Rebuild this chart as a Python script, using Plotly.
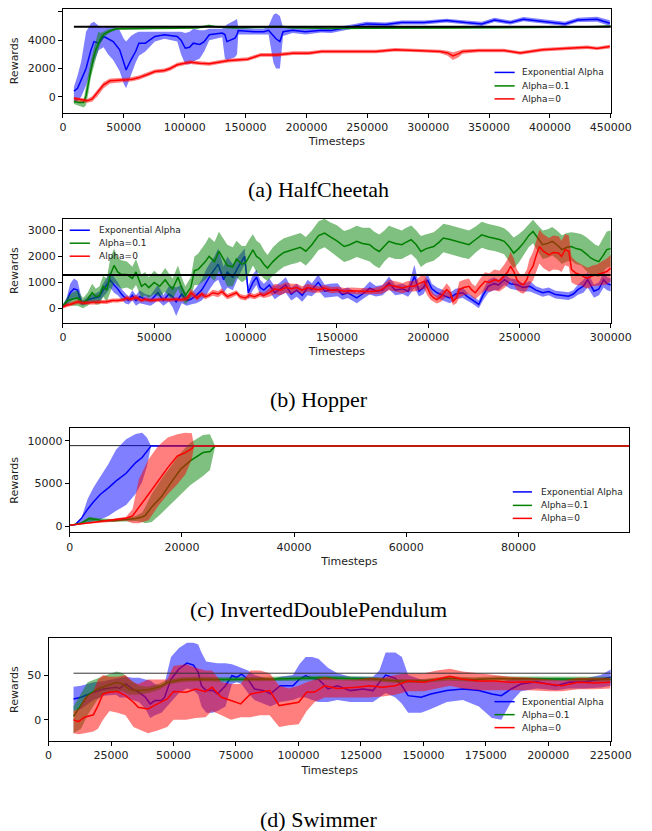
import plotly.graph_objects as go

# page is 652x831; the html body adds an 8px margin, so the figure is sized to fit inside it
PAGE_W, PAGE_H = 652, 831
OFF = 8
W, H = PAGE_W - OFF, PAGE_H - OFF

# ---------------- (a) HalfCheetah ----------------
a_blue_x = [9000, 12000, 15000, 19000, 23000, 25500, 29500, 33400, 37000, 41300, 46600, 50000, 51900, 55800, 59700,
            62400, 67700, 75500, 83400, 93900, 97000, 100500, 104000, 107100, 112400, 116000, 120200, 130800, 133000,
            134700, 141300, 143000, 144000, 157100, 165000, 168900, 172900, 175000, 178200, 180800, 188700, 199200,
            212300, 220300, 230800, 240000, 249300, 265000, 278200, 296600, 315000, 330800, 344000, 354500, 367600,
            378200, 393900, 412400, 422900, 438700, 449200]
a_blue_y = [400, 600, 1200, 2000, 3300, 3900, 3790, 4260, 4100, 3900, 3320, 2500, 1900, 2600, 3200, 3790, 3790, 4260,
            4380, 4260, 4000, 3430, 3500, 3790, 3700, 3900, 4380, 4500, 4400, 3900, 4140, 4400, 4680, 4600, 4600, 4700,
            4260, 4100, 3900, 4600, 4700, 4600, 4700, 4680, 4850, 5000, 5150, 5100, 5240, 5240, 5390, 5240, 5150, 5430,
            5240, 5480, 5320, 5150, 5430, 5480, 5190]
a_blue_lo = [-400, -300, 0, 800, 1800, 2500, 3300, 3500, 3000, 2600, 1800, 900, 600, 1500, 2400, 2900, 3200, 3900,
             4100, 3900, 3000, 2300, 2300, 2500, 2700, 3200, 4000, 4200, 2700, 2600, 2800, 3000, 4400, 4400, 4400, 4400,
             2400, 2000, 2000, 4300, 4500, 4400, 4550, 4500, 4700, 4850, 5000, 4950, 5100, 5100, 5250, 5100, 5000, 5280,
             5100, 5330, 5180, 5000, 5280, 5300, 5000]
a_blue_hi = [700, 1500, 2500, 4600, 5200, 5300, 5000, 4900, 4950, 5000, 4700, 4100, 3900, 4300, 4500, 4600, 4600, 4600,
             4650, 4650, 4600, 4500, 4600, 4800, 4700, 4700, 4800, 4800, 5000, 5100, 5400, 5500, 4900, 4800, 4800, 5000,
             5800, 5900, 5700, 4900, 4900, 4800, 4850, 4850, 5000, 5150, 5300, 5250, 5380, 5380, 5520, 5380, 5300, 5580,
             5380, 5630, 5460, 5300, 5580, 5650, 5400]

a_green_x = [9000, 13000, 17000, 19000, 21000, 23000, 25000, 27000, 29000, 31000, 34000, 37000, 40000, 44000, 50000,
             60000, 75000, 90000, 110000, 120000, 125000, 140000, 160000, 180000, 185000, 200000, 220000, 250000,
             280000, 310000, 340000, 370000, 400000, 430000, 450000]
a_green_y = [-330, -400, -400, 100, 1000, 2000, 2700, 3300, 3800, 4150, 4450, 4600, 4700, 4800, 4820, 4830, 4850, 4850,
             4880, 5000, 4950, 4870, 4900, 4950, 4900, 4850, 4830, 4840, 4850, 4860, 4870, 4880, 4900, 4930, 4980]
a_green_lo = [-500, -600, -750, -600, 300, 1400, 2100, 2700, 3300, 3800, 4200, 4450, 4600, 4720, 4750, 4760, 4780, 4780,
              4800, 4900, 4880, 4800, 4820, 4870, 4820, 4780, 4760, 4770, 4780, 4790, 4800, 4810, 4830, 4860, 4900]
a_green_hi = [-200, -250, -200, 800, 1700, 2600, 3300, 3900, 4600, 4500, 4650, 4750, 4800, 4880, 4890, 4900, 4920, 4920,
              4950, 5100, 5020, 4940, 4970, 5030, 4980, 4920, 4900, 4910, 4920, 4930, 4940, 4950, 4970, 5000, 5060]

a_red_x = [9000, 14000, 20000, 24000, 28100, 33400, 38700, 45000, 51900, 57000, 62400, 70000, 75500, 83400, 88000,
           93900, 104500, 112000, 120200, 128000, 136000, 151800, 162400, 175500, 188700, 201900, 212300, 230800,
           257100, 272900, 294000, 309700, 316000, 320300, 325000, 328200, 341300, 362400, 375500, 393900, 415000,
           430800, 438700, 449200]
a_red_y = [-100, -200, -280, -150, 260, 850, 1130, 1150, 1200, 1250, 1360, 1600, 1790, 1860, 2000, 2260, 2450, 2380,
           2330, 2450, 2560, 2660, 2960, 2960, 3080, 3080, 3200, 3200, 3200, 3320, 3260, 3200, 3100, 2890, 3050, 3200,
           3270, 3270, 3100, 3320, 3430, 3500, 3420, 3550]
a_red_lo = [-250, -350, -420, -350, 0, 600, 950, 1000, 1050, 1100, 1200, 1450, 1650, 1720, 1850, 2120, 2320, 2250, 2200,
            2320, 2430, 2530, 2830, 2830, 2950, 2950, 3070, 3070, 3080, 3200, 3140, 3080, 2900, 2600, 2800, 3050, 3150,
            3150, 2980, 3200, 3310, 3380, 3300, 3420]
a_red_hi = [0, -50, -150, 50, 500, 1050, 1300, 1300, 1350, 1400, 1500, 1750, 1930, 2000, 2150, 2400, 2580, 2510, 2460,
            2580, 2690, 2790, 3090, 3090, 3210, 3210, 3330, 3330, 3320, 3440, 3380, 3320, 3250, 3150, 3250, 3350, 3390,
            3390, 3220, 3440, 3550, 3620, 3540, 3680]
a_base_x = [9000, 450000]
a_base_y = [4950, 4950]

# ---------------- (b) Hopper ----------------
b_blue_x = [0, 2000, 4000, 6000, 8000, 9000, 10500, 12000, 14400, 17000,
            20000, 22000, 24000, 25800, 28000, 30000, 32000, 34000, 36000, 38000,
            40000, 42000, 45000, 48000, 50000, 52000, 55000, 58000, 60000, 62000,
            65000, 67900, 70000, 73000, 76000, 78400, 81000, 83000, 85000, 88000,
            90000, 93000, 96000, 99500, 101500, 104000, 106000, 108000, 110000, 113000,
            116000, 119000, 122000, 125000, 128000, 131000, 134000, 136300, 139800, 143300,
            146000, 150400, 153000, 156000, 160900, 165000, 168000, 171400, 175000, 178500,
            182000, 186000, 189000, 192500, 195000, 197500, 199600, 202000, 204900, 208000,
            211900, 215000, 218900, 221500, 224100, 227700, 230000, 232900, 236000, 238500,
            241700, 245000, 248700, 252000, 255700, 259000, 262700, 266000, 269700, 273000,
            276800, 279500, 282000, 285000, 287300, 290800, 293500, 296100, 298000, 300000]
b_blue_y = [100, 250, 600, 750, 700, 450, 200, 250, 350, 400,
            450, 700, 900, 1100, 900, 750, 550, 400, 300, 500,
            300, 450, 350, 300, 450, 600, 300, 550, 450, 250,
            550, 300, 350, 500, 700, 1000, 1300, 1500, 1700, 1100,
            1400, 1200, 1600, 2000, 600, 1000, 1200, 800, 700, 900,
            600, 750, 900, 550, 700, 500, 800, 720, 1000, 660,
            700, 720, 530, 600, 400, 600, 780, 660, 700, 980,
            700, 750, 650, 1230, 660, 800, 1100, 750, 600, 500,
            400, 550, 600, 450, 335, 150, 500, 850, 950, 900,
            1100, 950, 910, 800, 850, 700, 600, 650, 530, 500,
            470, 550, 720, 850, 1100, 660, 750, 1100, 950, 900]
b_blue_sd = [50, 150, 350, 400, 350, 250, 100, 100, 150, 150,
             200, 250, 300, 300, 300, 250, 200, 200, 150, 200,
             200, 250, 200, 200, 250, 300, 200, 300, 400, 550,
             350, 200, 200, 300, 400, 500, 500, 500, 600, 500,
             600, 500, 400, 300, 250, 300, 300, 300, 250, 250,
             250, 250, 300, 250, 250, 250, 300, 250, 300, 250,
             250, 250, 200, 200, 200, 200, 250, 200, 200, 250,
             200, 200, 200, 450, 200, 250, 250, 200, 200, 200,
             200, 200, 200, 150, 150, 150, 200, 250, 250, 200,
             200, 200, 200, 150, 200, 150, 150, 150, 150, 150,
             150, 150, 200, 250, 300, 250, 250, 300, 250, 250]

b_green_x = [0, 2500, 5000, 8000, 11000, 13500, 16000, 18000, 20000, 22000,
             24000, 26000, 28000, 30000, 32000, 35000, 38000, 40000, 43000, 45000,
             47000, 50000, 53000, 56000, 58000, 60000, 63000, 65000, 67000, 70000,
             72000, 74000, 76000, 78000, 80000, 83000, 85400, 88000, 90000, 93000,
             95000, 98000, 100000, 102000, 104000, 106000, 108000, 110000, 112000, 115000,
             118000, 121000, 125000, 128000, 130000, 133000, 136300, 140000, 143300, 146000,
             150000, 154000, 157000, 160900, 164000, 168000, 170500, 173200, 176000, 178500,
             182000, 185500, 188000, 190700, 193500, 196000, 199000, 203000, 206000, 208300,
             212000, 215300, 219000, 222300, 226000, 229300, 233000, 236300, 239000, 241600,
             244000, 246800, 249500, 252100, 255000, 257400, 260000, 262700, 265500, 267900,
             270500, 273200, 276000, 278500, 281000, 283700, 286500, 289000, 291500, 293400,
             295500, 297800, 300000]
b_green_y = [100, 300, 350, 400, 200, 350, 600, 450, 500, 850,
             700, 1300, 1650, 1400, 1300, 1300, 1150, 1400, 850, 950,
             800, 1000, 850, 1100, 900, 750, 1200, 800, 500, 800,
             1450, 1500, 1650, 1800, 2000, 1800, 2200, 1900, 1650, 1600,
             1900, 1700, 1750, 2000, 2250, 2000, 1900, 1700, 1550, 1800,
             2000, 2150, 2250, 2300, 2350, 2200, 2450, 2800, 2900, 2770,
             2600, 2380, 2450, 2580, 2500, 2450, 2300, 2190, 2400, 2580,
             2500, 2450, 2550, 2640, 2450, 2190, 2300, 2380, 2550, 2710,
             2650, 2580, 2500, 2450, 2650, 2830, 2750, 2710, 2650, 2580,
             2400, 2130, 2300, 2510, 2800, 2960, 2700, 2450, 2500, 2580,
             2450, 2260, 2350, 2380, 2300, 2260, 2100, 1940, 1850, 1800,
             2000, 2260, 2300]
b_green_sd = [50, 150, 250, 300, 200, 250, 350, 300, 350, 400,
              450, 650, 650, 550, 550, 500, 450, 500, 450, 450,
              400, 450, 400, 450, 450, 400, 450, 400, 350, 400,
              550, 600, 650, 700, 750, 750, 750, 750, 800, 750,
              700, 700, 650, 650, 600, 600, 600, 550, 500, 550,
              550, 550, 550, 550, 550, 550, 550, 550, 550, 550,
              600, 600, 600, 600, 600, 650, 650, 650, 600, 600,
              600, 550, 550, 550, 550, 600, 550, 550, 550, 550,
              550, 550, 550, 550, 500, 500, 500, 500, 500, 500,
              550, 600, 550, 500, 450, 450, 500, 550, 550, 550,
              550, 550, 550, 550, 600, 600, 650, 650, 600, 600,
              650, 700, 700]

b_red_x = [0, 2000, 4000, 6000, 8000, 10000, 12000, 15000, 18000, 21000,
           24000, 27000, 30000, 33000, 35000, 37000, 40000, 43000, 45000, 48000,
           51000, 55000, 58000, 62000, 65000, 68000, 70000, 72000, 73500, 76000,
           78000, 80000, 82000, 85000, 87000, 90000, 92000, 95000, 97000, 100000,
           102000, 105000, 108000, 110000, 113000, 116000, 119000, 122000, 125000, 128000,
           131000, 134000, 137000, 140000, 143000, 147000, 150000, 154000, 158000, 162000,
           166000, 170000, 174000, 178500, 182000, 186000, 189000, 192500, 195000, 197800,
           199500, 201300, 203000, 204800, 207000, 210100, 212000, 213600, 215500, 217000,
           219500, 222300, 224000, 225800, 228000, 231100, 233500, 236300, 239000, 241600,
           243500, 245100, 247000, 248600, 250500, 252100, 254000, 255500, 257400, 259000,
           260900, 263000, 266200, 268500, 271400, 273000, 275000, 277000, 278500, 281000,
           283700, 285500, 287300, 290000, 292500, 295000, 297800, 300000]
b_red_y = [50, 120, 150, 200, 250, 220, 200, 220, 230, 260,
           250, 300, 300, 330, 400, 350, 420, 300, 350, 300,
           320, 350, 330, 350, 330, 380, 600, 500, 400, 550,
           450, 500, 600, 550, 650, 450, 500, 600, 450, 400,
           500, 450, 550, 500, 600, 750, 700, 800, 750, 800,
           700, 800, 750, 720, 780, 700, 720, 660, 680, 660,
           650, 660, 700, 900, 850, 780, 850, 850, 950, 1040,
           800, 530, 400, 335, 450, 720, 600, 270, 400, 720,
           800, 850, 700, 600, 800, 1040, 1000, 1100, 1050, 1230,
           1400, 1620, 1400, 1100, 950, 910, 1100, 1400, 1620, 2000,
           2380, 2200, 2060, 2150, 2130, 2000, 2260, 2200, 1490, 1350,
           1290, 1200, 1160, 1250, 1290, 1350, 1420, 1550]
b_red_sd = [50, 80, 80, 80, 80, 80, 80, 80, 80, 80,
            80, 80, 80, 80, 100, 80, 100, 80, 80, 80,
            80, 80, 80, 80, 80, 100, 150, 120, 100, 100,
            100, 100, 120, 120, 120, 100, 100, 100, 100, 100,
            100, 100, 100, 100, 150, 200, 200, 200, 200, 150,
            150, 150, 150, 120, 120, 120, 120, 120, 120, 120,
            120, 120, 150, 200, 200, 200, 200, 200, 250, 300,
            300, 200, 150, 150, 200, 250, 200, 150, 200, 300,
            300, 300, 250, 250, 300, 350, 350, 400, 400, 450,
            500, 550, 500, 400, 350, 350, 400, 500, 550, 600,
            650, 650, 650, 650, 650, 600, 600, 600, 500, 450,
            400, 400, 400, 400, 400, 450, 500, 500]
b_base_x = [0, 300000]
b_base_y = [1280, 1280]

# ---------------- (c) InvertedDoublePendulum ----------------
c_blue_x = [0, 1000, 2060, 3200, 4300, 5490, 6900, 8290, 10060, 11770, 12910, 13770, 14510, 99700]
c_blue_y = [100, 200, 900, 2000, 2900, 3750, 4500, 5310, 6210, 7460, 8050, 8830, 9420, 9420]
c_blue_lo = [100, 100, 300, 450, 600, 800, 1200, 1800, 2500, 3800, 5200, 7000, 9420, 9420]
c_blue_hi = [100, 300, 900, 3200, 4600, 5900, 7300, 9000, 10200, 10800, 10950, 10400, 9420, 9420]

c_green_x = [0, 1000, 2060, 3490, 5490, 7770, 10060, 11770, 12910, 13480, 14630, 16340, 18050, 19770, 21480, 23770,
             25000, 25940, 99700]
c_green_y = [100, 200, 350, 900, 700, 650, 780, 900, 1090, 1280, 2250, 3440, 5120, 6680, 7660, 8640, 8750, 9420, 9420]
c_green_lo = [100, 100, 200, 500, 500, 500, 550, 600, 500, 350, 500, 1500, 2500, 3700, 4800, 5900, 6600, 9420, 9420]
c_green_hi = [100, 300, 500, 1100, 900, 850, 1000, 1200, 1600, 2250, 3800, 5500, 7030, 8600, 9800, 10700, 10780,
              9420, 9420]

c_red_x = [0, 2000, 4000, 5830, 8000, 10060, 11200, 12340, 14060, 15770, 17490, 19200, 20630, 21770, 22170, 99700]
c_red_y = [100, 250, 400, 600, 750, 940, 1210, 2190, 3750, 5310, 6870, 8240, 8630, 9100, 9420, 9420]
c_red_lo = [100, 200, 300, 450, 550, 650, 350, 350, 700, 2360, 3750, 4920, 6100, 7850, 9420, 9420]
c_red_hi = [100, 300, 500, 700, 900, 1100, 1990, 5510, 7850, 9420, 10390, 10790, 10950, 10900, 9420, 9420]
c_base_x = [0, 99700]
c_base_y = [9450, 9450]

# ---------------- (d) Swimmer ----------------
d_blue_x = [10000, 13000, 18000, 22000, 27000, 28500, 31000, 33600, 36200, 38800,
            40700, 42600, 45200, 46400, 49000, 52200, 55400, 58000, 59900, 61200,
            63100, 65700, 67600, 70800, 73400, 75300, 77200, 79800, 82400, 86200,
            88800, 92700, 97800, 100400, 102900, 105500, 108000, 111800, 115600, 120800,
            125900, 129800, 132400, 134900, 138800, 141400, 143900, 149100, 153000, 159400,
            165800, 172200, 177400, 181200, 185100, 189000, 195400, 203100, 208200, 214600,
            221000, 225000]
d_blue_y = [23.3, 25.2, 30.7, 34.4, 36.3, 35, 40, 34.4, 30.7, 25.2,
            17.8, 21.5, 21.5, 25, 45.3, 56.7, 63.3, 61, 52.9, 38,
            32.6, 33, 28.9, 38, 49.2, 47.4, 51, 45.3, 34.4, 32.6,
            28.9, 38, 38, 45.3, 49.2, 46.3, 45.3, 34.4, 38, 32.6,
            34.4, 32.6, 41.8, 50, 46.3, 38, 27, 25.2, 28.9, 32.6,
            34.4, 32.6, 28.9, 27, 34.4, 40, 42.6, 38, 41.8, 42.6,
            45.3, 47.4]
d_blue_lo = [10, 12, 22, 27, 28, 25, 25, 22, 20, 12,
             2, 5, 8, 12, 20, 30, 35, 33, 28, 15,
             8, 8, 10, 15, 40, 42, 40, 30, 22, 18,
             15, 20, 22, 25, 25, 22, 20, 20, 22, 20,
             20, 20, 25, 30, 25, 18, 8, 8, 12, 20,
             22, 15, 2, 0, 20, 32, 35, 33, 35, 35,
             36, 38]
d_blue_hi = [37, 38, 42, 43, 46, 47, 48, 47, 47, 45,
             44, 40, 38, 40, 70, 80, 86, 86, 84, 75,
             65, 64, 63, 63, 62, 60, 58, 55, 50, 47,
             45, 48, 50, 62, 70, 70, 68, 58, 52, 48,
             48, 48, 55, 75, 75, 70, 50, 45, 45, 45,
             45, 43, 43, 43, 45, 47, 47, 46, 46, 46,
             50, 56]

d_green_x = [10000, 13000, 15600, 19500, 23300, 27200, 29700, 32300, 36200, 40000, 43900, 47700, 52900, 59300, 70000,
             80000, 90000, 100000, 110000, 120000, 130000, 140000, 150000, 160000, 170000, 180000, 190000, 200000,
             210000, 225000]
d_green_y = [4, 16, 27, 34.4, 38, 41.8, 40, 33.7, 32.6, 33.7, 36.3, 41.8, 44.8, 45.3, 45, 45, 45.5, 46, 47, 46, 45.5,
             43.3, 43.3, 46.3, 45, 46, 46, 46, 46, 45.3]
d_green_lo = [-15, -10, 5, 22, 30, 32, 32, 28, 28, 30, 33, 39, 42, 43, 42.5, 42.5, 43, 43.5, 44.5, 43.5, 43, 41, 41,
              44, 42.5, 43.5, 43.5, 43.5, 43.5, 42.5]
d_green_hi = [15, 30, 42, 46, 50, 54, 52, 45, 38, 37, 40, 45, 47.5, 48, 47.5, 47.5, 48, 48.5, 49.5, 48.5, 48, 45.5,
              45.5, 48.5, 47.5, 48.5, 48.5, 48.5, 48.5, 48]

d_red_x = [10000, 12000, 14400, 17950, 19800, 21800, 24400, 27600, 30800, 34000,
           35900, 39800, 43600, 47500, 50000, 55100, 58900, 62800, 65400, 69200,
           73000, 76900, 80800, 84600, 88500, 92300, 96200, 100100, 103300, 106500,
           110500, 115600, 123300, 128400, 133600, 138700, 143900, 150300, 155400, 160600,
           165700, 172200, 178600, 185000, 192700, 200400, 205500, 212000, 218400, 224800]
d_red_y = [0, -1.9, 3, 5.6, 15.9, 28.9, 30.7, 31.5, 27, 19.6,
           14, 12.2, 17.8, 23.3, 31.5, 30.7, 34.4, 31.5, 36.3, 25.2,
           21.5, 17.8, 28.9, 30.7, 32.6, 15.9, 17.8, 19.6, 30.7, 31,
           38, 35, 36.3, 38, 36.3, 38, 43.3, 41.8, 45.3, 48.5,
           45.3, 43.3, 43.3, 41.8, 42.6, 39.6, 38, 41.8, 41, 41.8]
d_red_lo = [-15, -16, -15, -13, -10, 0, 10, 8, 5, -8,
            -10, -15, -12, -8, 0, 0, 2, 3, 10, 5,
            0, 3, 3, 5, 5, -8, -6, -5, 10, 20,
            25, 25, 25, 25, 26, 28, 32, 32, 35, 38,
            35, 33, 33, 33, 33, 32, 32, 34, 34, 35]
d_red_hi = [10, 12, 25, 32, 45, 50, 48, 48, 50, 42,
            40, 45, 45, 45, 60, 62, 58, 55, 55, 42,
            40, 40, 55, 55, 52, 38, 35, 38, 42, 45,
            48, 45, 45, 47, 47, 50, 52, 52, 55, 57,
            54, 52, 50, 48, 47, 45, 44, 47, 47, 47]
d_base_x = [10000, 225000]
d_base_y = [52, 52]

series_names = ["Exponential Alpha", "Alpha=0.1", "Alpha=0"]
captions = ["(a) HalfCheetah", "(b) Hopper", "(c) InvertedDoublePendulum", "(d) Swimmer"]

a_xticks = [0, 50000, 100000, 150000, 200000, 250000, 300000, 350000, 400000, 450000]
a_yticks = [0, 2000, 4000, 6000]
b_xticks = [0, 50000, 100000, 150000, 200000, 250000, 300000]
b_yticks = [0, 1000, 2000, 3000]
c_xticks = [0, 20000, 40000, 60000, 80000]
c_yticks = [0, 5000, 10000]
d_xticks = [0, 25000, 50000, 75000, 100000, 125000, 150000, 175000, 200000, 225000]
d_yticks = [0, 50]

# ---------------- styling ----------------
COLORS = ["#0000ff", "#008000", "#ff0000"]
FILLS = ["rgba(0,0,255,0.5)", "rgba(0,128,0,0.5)", "rgba(255,0,0,0.5)"]
TICK_FONT = dict(family="DejaVu Sans", size=11, color="#222")


def fx(px):
    return (px - OFF) / W


def fy(py):
    return 1 - (py - OFF) / H


# panel page-pixel boxes: left, right, top, bottom
panels = [
    dict(box=(61, 631, 9, 113), xr=[0, 450000], yr=[-1130, 6200], xt=a_xticks, yt=a_yticks,
         base=(a_base_x, a_base_y, 2.0, "black", "last"),
         series=[(a_blue_x, a_blue_y, a_blue_lo, a_blue_hi),
                 (a_green_x, a_green_y, a_green_lo, a_green_hi),
                 (a_red_x, a_red_y, a_red_lo, a_red_hi)],
         legend=(510, 531, 537, [72.5, 86, 99]), cap_y=190),
    dict(box=(61, 631, 219, 323), xr=[0, 300000], yr=[-550, 3450], xt=b_xticks, yt=b_yticks,
         base=(b_base_x, b_base_y, 2.0, "black", "last"),
         series=[(b_blue_x, b_blue_y, [m - s for m, s in zip(b_blue_y, b_blue_sd)],
                  [m + s for m, s in zip(b_blue_y, b_blue_sd)]),
                 (b_green_x, b_green_y, [m - s for m, s in zip(b_green_y, b_green_sd)],
                  [m + s for m, s in zip(b_green_y, b_green_sd)]),
                 (b_red_x, b_red_y, [m - s for m, s in zip(b_red_y, b_red_sd)],
                  [m + s for m, s in zip(b_red_y, b_red_sd)])],
         legend=(68, 89, 96, [230.5, 243.5, 256.5]), cap_y=400),
    dict(box=(68, 650, 429, 533), xr=[0, 99700], yr=[-720, 11460], xt=c_xticks, yt=c_yticks,
         base=(c_base_x, c_base_y, 1.0, "#222", "first"),
         series=[(c_blue_x, c_blue_y, c_blue_lo, c_blue_hi),
                 (c_green_x, c_green_y, c_green_lo, c_green_hi),
                 (c_red_x, c_red_y, c_red_lo, c_red_hi)],
         legend=(529, 549, 556, [492.5, 506, 519]), cap_y=610),
    dict(box=(46, 631, 639, 742), xr=[0, 225000], yr=[-23.7, 91], xt=d_xticks, yt=d_yticks,
         base=(d_base_x, d_base_y, 1.0, "#333", "last"),
         series=[(d_blue_x, d_blue_y, d_blue_lo, d_blue_hi),
                 (d_green_x, d_green_y, d_green_lo, d_green_hi),
                 (d_red_x, d_red_y, d_red_lo, d_red_hi)],
         legend=(510, 531, 537, [702.5, 715.5, 728.5]), cap_y=820),
]

fig = go.Figure()
layout = dict(width=W, height=H, margin=dict(l=0, r=0, t=0, b=0), paper_bgcolor="white",
              plot_bgcolor="white", showlegend=False)
shapes, annotations = [], []

for i, p in enumerate(panels):
    n = "" if i == 0 else str(i + 1)
    xa, ya = "x" + n, "y" + n
    L, R, T, B = p["box"]
    bx, by, bw, bc, border = p["base"]
    base_trace = go.Scatter(x=bx, y=by, mode="lines", line=dict(color=bc, width=bw),
                            xaxis=xa, yaxis=ya, hoverinfo="skip")
    if border == "first":
        fig.add_trace(base_trace)
    for k, (sx, sy, lo, hi) in enumerate(p["series"]):
        fig.add_trace(go.Scatter(x=list(sx) + list(sx)[::-1], y=list(hi) + list(lo)[::-1],
                                 fill="toself", fillcolor=FILLS[k], line=dict(width=0),
                                 mode="lines", xaxis=xa, yaxis=ya, hoverinfo="skip"))
        fig.add_trace(go.Scatter(x=sx, y=sy, mode="lines", name=series_names[k],
                                 line=dict(color=COLORS[k], width=1.5), xaxis=xa, yaxis=ya))
    if border == "last":
        fig.add_trace(base_trace)

    axis_common = dict(showline=True, mirror=True, linecolor="black", linewidth=1, ticks="outside",
                       ticklen=4, tickcolor="black", tickwidth=1, showgrid=False, zeroline=False,
                       tickfont=TICK_FONT, tickformat="d")
    layout["xaxis" + n] = dict(axis_common, domain=[fx(L), fx(R)], range=p["xr"], tickvals=p["xt"],
                               anchor=ya, title=dict(text="Timesteps", font=TICK_FONT, standoff=4))
    layout["yaxis" + n] = dict(axis_common, domain=[fy(B), fy(T)], range=p["yr"], tickvals=p["yt"],
                               anchor=xa, title=dict(text="Rewards", font=TICK_FONT, standoff=6))

    lx0, lx1, tx, rows = p["legend"]
    for k, ry in enumerate(rows):
        shapes.append(dict(type="line", xref="paper", yref="paper", x0=fx(lx0), x1=fx(lx1),
                           y0=fy(ry), y1=fy(ry), line=dict(color=COLORS[k], width=1.5)))
        annotations.append(dict(text=series_names[k], xref="paper", yref="paper", x=fx(tx), y=fy(ry),
                                xanchor="left", yanchor="middle", showarrow=False,
                                font=dict(family="DejaVu Sans", size=9, color="#222")))
    annotations.append(dict(text=captions[i], xref="paper", yref="paper", x=fx(327), y=fy(p["cap_y"]),
                            xanchor="center", yanchor="middle", showarrow=False,
                            font=dict(family="Liberation Serif", size=22, color="black")))

layout["shapes"] = shapes
layout["annotations"] = annotations
fig.update_layout(**layout)
fig.write_html("out.html")
